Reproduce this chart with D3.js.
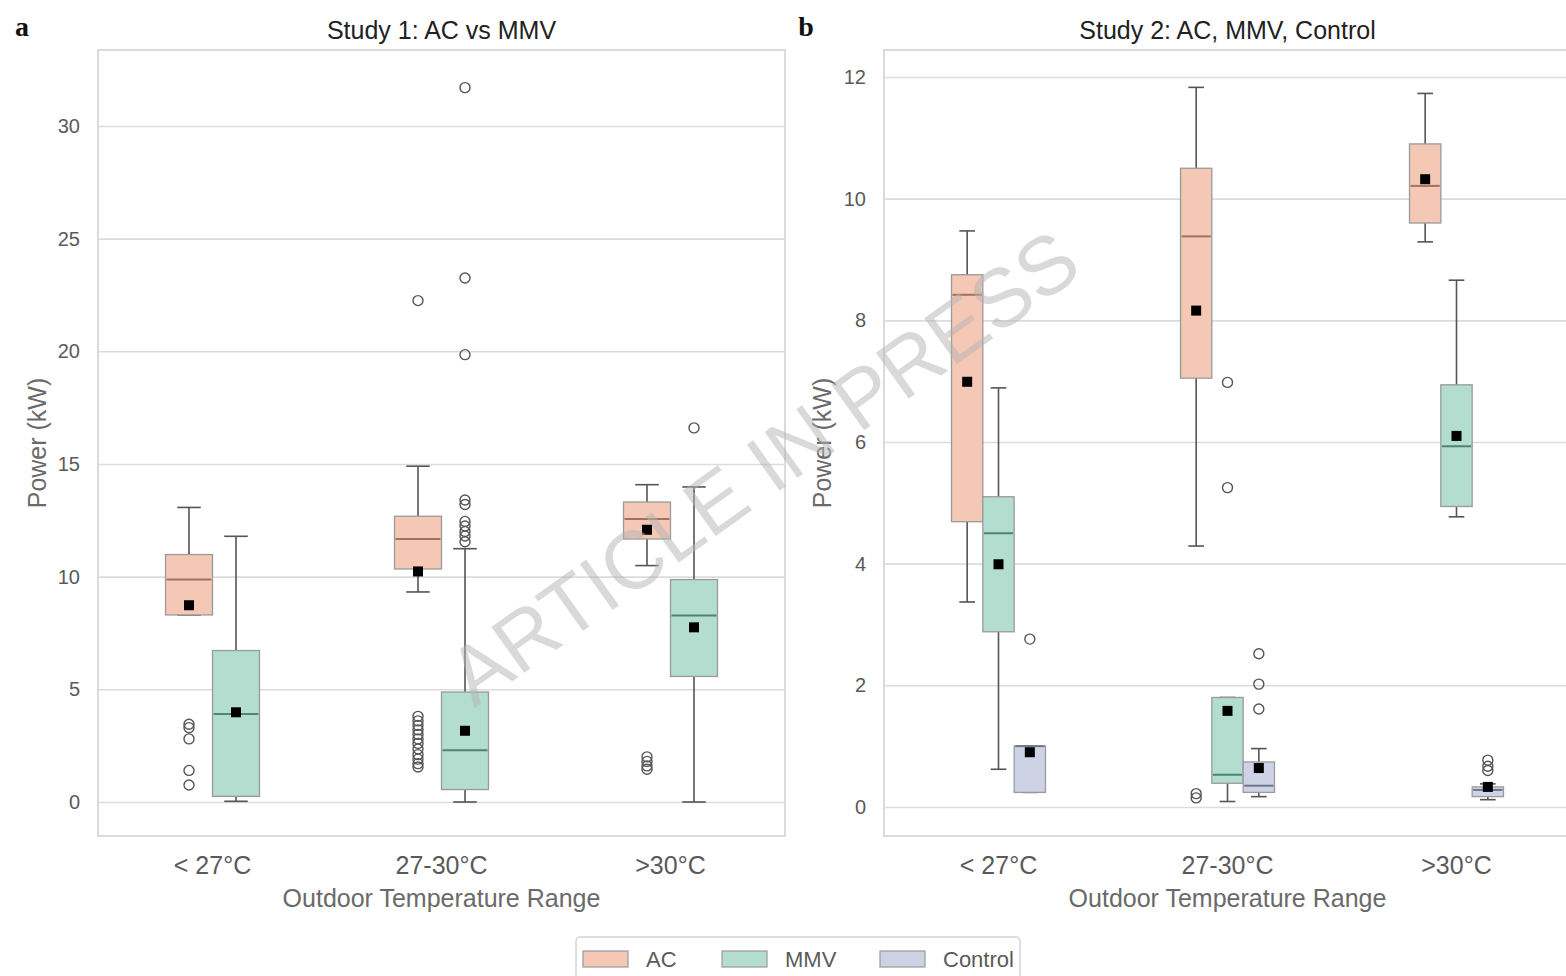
<!DOCTYPE html>
<html>
<head>
<meta charset="utf-8">
<script src="https://cdn.jsdelivr.net/npm/d3@7"></script>
<style>
  body { margin: 0; background: #fff; }
  svg { font-family: "Liberation Sans", Arial, Helvetica, sans-serif; }
</style>
</head>
<body>
<div id="chart"></div>
<script>
// Categories and groups
const categories = ["< 27°C", "27-30°C", ">30°C"];
const study1Groups = ["AC", "MMV"];
const study2Groups = ["AC", "MMV", "Control"];

// Box stats per category: [lower whisker, q1, median, q3, upper whisker]
// Study 1
const s1AC = [[8.3, 8.3, 9.87, 10.98, 13.07], [9.32, 10.34, 11.67, 12.68, 14.9], [10.49, 11.67, 12.56, 13.31, 14.08]];
const s1ACMean = [8.73, 10.23, 12.08];
const s1ACOut = [[3.45, 3.3, 2.8, 1.4, 0.75],
                 [22.25, 3.8, 3.6, 3.4, 3.2, 3.0, 2.8, 2.6, 2.35, 2.1, 1.9, 1.7, 1.55],
                 [2.0, 1.8, 1.6, 1.45]];
const s1MMV = [[0.03, 0.25, 3.9, 6.72, 11.79], [0.0, 0.55, 2.29, 4.88, 11.24], [0.0, 5.57, 8.27, 9.87, 13.98]];
const s1MMVMean = [3.98, 3.16, 7.75];
const s1MMVOut = [[], [31.7, 23.25, 19.85, 13.4, 13.2, 12.45, 12.25, 12.0, 11.8, 11.55], [16.6]];

// Study 2
const s2AC = [[3.37, 4.69, 8.42, 8.75, 9.47], [4.29, 7.05, 9.38, 10.5, 11.83], [9.29, 9.6, 10.21, 10.9, 11.73]];
const s2ACMean = [6.99, 8.16, 10.32];
const s2ACOut = [[], [0.22, 0.15], []];
const s2MMV = [[0.62, 2.88, 4.5, 5.1, 6.89], [0.09, 0.39, 0.53, 1.8, 1.8], [4.77, 4.94, 5.93, 6.94, 8.66]];
const s2MMVMean = [3.99, 1.58, 6.1];
const s2MMVOut = [[], [6.98, 5.25], []];
const s2Ctrl = [[0.24, 0.24, 1.0, 1.0, 1.0], [0.17, 0.24, 0.35, 0.74, 0.96], [0.12, 0.17, 0.28, 0.33, 0.38]];
const s2CtrlMean = [0.9, 0.64, 0.33];
const s2CtrlOut = [[2.76], [2.52, 2.02, 1.61], [0.77, 0.67, 0.6]];

// Tick values
const study1Ticks = [0, 5, 10, 15, 20, 25, 30];
const study2Ticks = [0, 2, 4, 6, 8, 10, 12];

// Colours
const fills = { AC: "#f5c7b5", MMV: "#b3ddcf", Control: "#cdd3e5" };
const medianColors = { AC: "#a3725f", MMV: "#4f8373", Control: "#6e7586" };

let svgWidth = 1566;
let svgHeight = 976;

let svg = d3.select("#chart")
  .append("svg")
  .attr("width", svgWidth)
  .attr("height", svgHeight);

function buildSeries(groups, stats, means, outs) {
  return groups.map((g, i) => ({ name: g, stats: stats[i], means: means[i], outliers: outs[i] }));
}

let study1 = buildSeries(study1Groups, [s1AC, s1MMV], [s1ACMean, s1MMVMean], [s1ACOut, s1MMVOut]);
let study2 = buildSeries(study2Groups, [s2AC, s2MMV, s2Ctrl], [s2ACMean, s2MMVMean, s2CtrlMean], [s2ACOut, s2MMVOut, s2CtrlOut]);

// draw one panel
function drawPanel(cfg) {
  let frame = cfg.frame;
  let g = svg.append("g");

  let x = d3.scaleBand().domain(categories).range([frame.left, frame.right]);
  let y = d3.scaleLinear().domain(cfg.yDomain).range([frame.bottom, frame.top]);
  let hue = d3.scaleBand().domain(cfg.groups).range([-47, 47]);
  let bw = hue.bandwidth();

  // frame
  g.append("rect")
    .attr("x", frame.left)
    .attr("y", frame.top)
    .attr("width", frame.right - frame.left)
    .attr("height", frame.bottom - frame.top)
    .attr("fill", "none")
    .attr("stroke", "#d2d2d2")
    .attr("stroke-width", 1.6);

  // y axis with grid
  let yAxis = g.append("g")
    .attr("transform", `translate(${frame.left},0)`)
    .call(d3.axisLeft(y).tickValues(cfg.ticks).tickSize(-(frame.right - frame.left)).tickPadding(18));
  yAxis.select(".domain").remove();
  yAxis.selectAll(".tick line").attr("stroke", "#dcdcdc").attr("stroke-width", 1.6);
  yAxis.selectAll(".tick text")
    .attr("font-size", 20)
    .attr("fill", "#5a5a5a")
    .style("font-family", "Liberation Sans, Arial, sans-serif");

  // x axis
  let xAxis = g.append("g")
    .attr("transform", `translate(0,${frame.bottom})`)
    .call(d3.axisBottom(x).tickSize(0).tickPadding(20));
  xAxis.select(".domain").remove();
  xAxis.selectAll(".tick text")
    .attr("font-size", 25)
    .attr("fill", "#5a5a5a")
    .style("font-family", "Liberation Sans, Arial, sans-serif");

  // boxes
  cfg.series.forEach(function(s) {
    let sg = g.append("g");
    categories.forEach(function(cat, i) {
      let st = s.stats[i];
      let cx = x(cat) + x.bandwidth() / 2 + hue(s.name) + bw / 2;
      let capW = bw / 2;

      // whiskers
      sg.append("line")
        .attr("x1", cx).attr("x2", cx)
        .attr("y1", y(st[0])).attr("y2", y(st[1]))
        .attr("stroke", "#555").attr("stroke-width", 1.6);
      sg.append("line")
        .attr("x1", cx).attr("x2", cx)
        .attr("y1", y(st[3])).attr("y2", y(st[4]))
        .attr("stroke", "#555").attr("stroke-width", 1.6);
      // caps
      [st[0], st[4]].forEach(function(v) {
        sg.append("line")
          .attr("x1", cx - capW / 2).attr("x2", cx + capW / 2)
          .attr("y1", y(v)).attr("y2", y(v))
          .attr("stroke", "#555").attr("stroke-width", 1.6);
      });

      // box
      sg.append("rect")
        .attr("x", cx - bw / 2)
        .attr("y", y(st[3]))
        .attr("width", bw)
        .attr("height", Math.max(1, y(st[1]) - y(st[3])))
        .attr("fill", fills[s.name])
        .attr("stroke", "#9a9a9a")
        .attr("stroke-width", 1.3);

      // median
      sg.append("line")
        .attr("x1", cx - bw / 2 + 1).attr("x2", cx + bw / 2 - 1)
        .attr("y1", y(st[2])).attr("y2", y(st[2]))
        .attr("stroke", medianColors[s.name]).attr("stroke-width", 2);

      // outliers
      sg.selectAll(null)
        .data(s.outliers[i])
        .enter()
        .append("circle")
        .attr("cx", cx)
        .attr("cy", d => y(d))
        .attr("r", 5)
        .attr("fill", "none")
        .attr("stroke", "#555")
        .attr("stroke-width", 1.4);

      // mean marker
      sg.append("rect")
        .attr("x", cx - 5)
        .attr("y", y(s.means[i]) - 5)
        .attr("width", 10)
        .attr("height", 10)
        .attr("fill", "#000");
    });
  });

  // titles and labels
  let midX = (frame.left + frame.right) / 2;
  g.append("text")
    .attr("x", midX)
    .attr("y", 39)
    .attr("text-anchor", "middle")
    .attr("font-size", 25)
    .attr("fill", "#222")
    .text(cfg.title);

  g.append("text")
    .attr("x", midX)
    .attr("y", 907)
    .attr("text-anchor", "middle")
    .attr("font-size", 25)
    .attr("fill", "#6a6a6a")
    .text("Outdoor Temperature Range");

  g.append("text")
    .attr("transform", `translate(${cfg.ylabelX}, ${(frame.top + frame.bottom) / 2}) rotate(-90)`)
    .attr("text-anchor", "middle")
    .attr("font-size", 25)
    .attr("fill", "#6a6a6a")
    .text("Power (kW)");

  g.append("text")
    .attr("x", cfg.letterX)
    .attr("y", 36)
    .attr("text-anchor", "middle")
    .attr("font-size", 28)
    .attr("font-weight", "bold")
    .style("font-family", "Liberation Serif, DejaVu Serif, serif")
    .attr("fill", "#111")
    .text(cfg.letter);
}

drawPanel({
  frame: { left: 98, top: 50, right: 785, bottom: 836 },
  yDomain: [-1.51, 33.37],
  ticks: study1Ticks,
  groups: study1Groups,
  series: study1,
  title: "Study 1: AC vs MMV",
  ylabelX: 46,
  letter: "a",
  letterX: 22
});

drawPanel({
  frame: { left: 884, top: 50, right: 1571, bottom: 836 },
  yDomain: [-0.477, 12.444],
  ticks: study2Ticks,
  groups: study2Groups,
  series: study2,
  title: "Study 2: AC, MMV, Control",
  ylabelX: 831,
  letter: "b",
  letterX: 806
});

// legend
let legend = svg.append("g");
legend.append("rect")
  .attr("x", 576).attr("y", 937)
  .attr("width", 444).attr("height", 50)
  .attr("rx", 4)
  .attr("fill", "#fff")
  .attr("stroke", "#d2d2d2")
  .attr("stroke-width", 1.4);

let legendX = [583, 722, 880];
study2Groups.forEach(function(name, i) {
  legend.append("rect")
    .attr("x", legendX[i]).attr("y", 951)
    .attr("width", 45).attr("height", 16)
    .attr("fill", fills[name])
    .attr("stroke", "#9a9a9a")
    .attr("stroke-width", 1.2);
  legend.append("text")
    .attr("x", legendX[i] + 63)
    .attr("y", 967)
    .attr("font-size", 22)
    .attr("fill", "#5a5a5a")
    .text(name);
});

// watermark
svg.append("text")
  .attr("transform", "translate(767, 473) rotate(-35.5)")
  .attr("text-anchor", "middle")
  .attr("dominant-baseline", "middle")
  .attr("font-size", 82)
  .attr("fill", "#b5b5b5")
  .attr("opacity", 0.5)
  .text("ARTICLE IN PRESS");
</script>
</body>
</html>
